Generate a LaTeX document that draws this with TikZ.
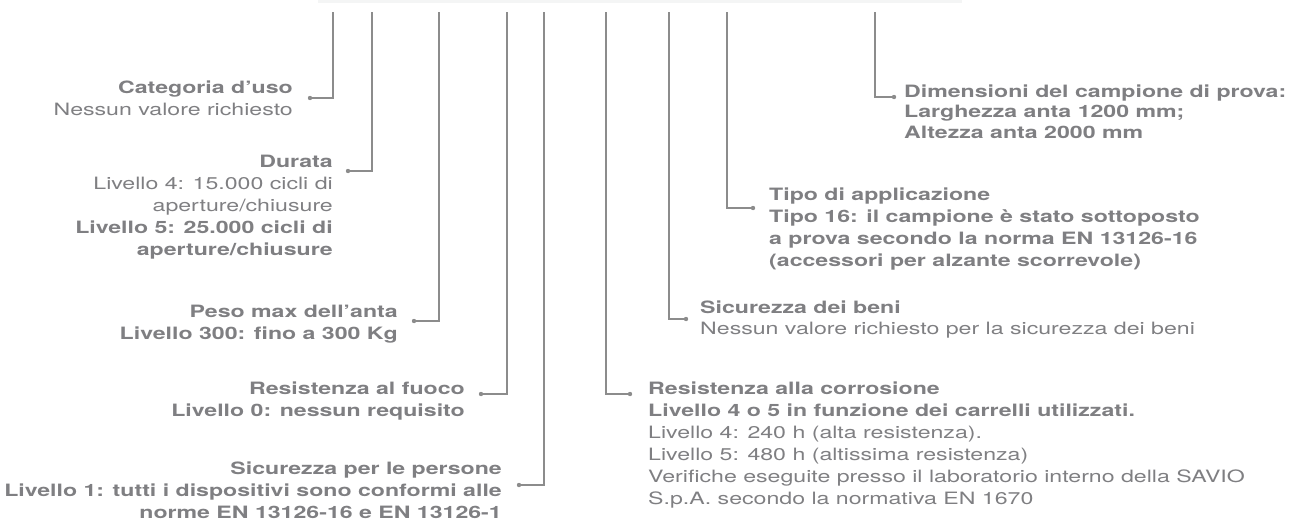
\documentclass[tikz,border=0pt]{standalone}
\usepackage{fontspec}
\setmainfont{TeX Gyre Heros}[FakeStretch=1.36]
\definecolor{txt}{HTML}{7F7F82}
\definecolor{ln}{HTML}{8C8C8C}
\definecolor{band}{HTML}{F4F5F5}
\newcommand{\fstrut}{\rule{0pt}{14pt}}
\begin{document}
\begin{tikzpicture}[x=1pt,y=-1pt,
  lbl/.style={inner sep=0pt, text=txt, font=\fontsize{17}{22}\selectfont},
  lblR/.style={lbl, align=right, anchor=north east},
  lblL/.style={lbl, align=left, anchor=north west},
  conn/.style={draw=ln, line width=1.2pt},
  tip/.style={fill=ln}]
\useasboundingbox (0,0) rectangle (1304,523);
\fill[band] (318,0) rectangle (962,3);

% text blocks (top = first baseline - 14)
\node[lblR] (cat) at (293,79) {\fstrut\textbf{Categoria d’uso}\\Nessun valore richiesto};
\node[lblR] (dur) at (333,153) {\fstrut\textbf{Durata}\\Livello 4: 15.000 cicli di\\aperture/chiusure\\\textbf{Livello 5: 25.000 cicli di}\\\textbf{aperture/chiusure}};
\node[lblR,font=\fontsize{17}{22}\selectfont\bfseries] (peso) at (398,303) {\fstrut Peso max dell’anta\\Livello 300: fino a 300 Kg};
\node[lblR,font=\fontsize{17}{22}\selectfont\bfseries] (fuoco) at (465,380) {\fstrut Resistenza al fuoco\\Livello 0: nessun requisito};
\node[lblR,font=\fontsize{17}{22}\selectfont\bfseries] (pers) at (502,460) {\fstrut Sicurezza per le persone\\Livello 1: tutti i dispositivi sono conformi alle\\norme EN 13126-16 e EN 13126-1};
\node[lblL] (corr) at (648,380) {\fstrut\textbf{Resistenza alla corrosione}\\\textbf{Livello 4 o 5 in funzione dei carrelli utilizzati.}\\Livello 4: 240 h (alta resistenza).\\Livello 5: 480 h (altissima resistenza)\\Verifiche eseguite presso il laboratorio interno della SAVIO\\S.p.A. secondo la normativa EN 1670};
\node[lblL,font=\fontsize{17}{21}\selectfont] (beni) at (700,299) {\fstrut\textbf{Sicurezza dei beni}\\Nessun valore richiesto per la sicurezza dei beni};
\node[lblL,font=\fontsize{17}{22}\selectfont\bfseries] (tipo) at (769,186) {\fstrut Tipo di applicazione\\Tipo 16: il campione è stato sottoposto\\a prova secondo la norma EN 13126-16\\(accessori per alzante scorrevole)};
\node[lblL,font=\fontsize{17}{20.5}\selectfont\bfseries] (dim) at (904,83) {\fstrut Dimensioni del campione di prova:\\Larghezza anta 1200 mm;\\Altezza anta 2000 mm};

% connector coordinates
\coordinate (catT) at (333,12);   \coordinate (catD) at (310,98);
\coordinate (durT) at (372,12);   \coordinate (durD) at (348,171);
\coordinate (pesoT) at (439,12);  \coordinate (pesoD) at (414,321);
\coordinate (fuocoT) at (507,12); \coordinate (fuocoD) at (481,394);
\coordinate (persT) at (544,12);  \coordinate (persD) at (519,485);
\coordinate (corrT) at (606,12);  \coordinate (corrD) at (630,394);
\coordinate (beniT) at (669,12);  \coordinate (beniD) at (686,319);
\coordinate (tipoT) at (727,12);  \coordinate (tipoD) at (753,208);
\coordinate (dimT) at (875,12);   \coordinate (dimD) at (894,97);

\foreach \n in {cat,dur,peso,fuoco,pers,corr,beni,tipo,dim}{
  \draw[conn] (\n T) |- (\n D);
  \fill[tip] (\n D) circle (2.2pt);
}
\end{tikzpicture}
\end{document}
